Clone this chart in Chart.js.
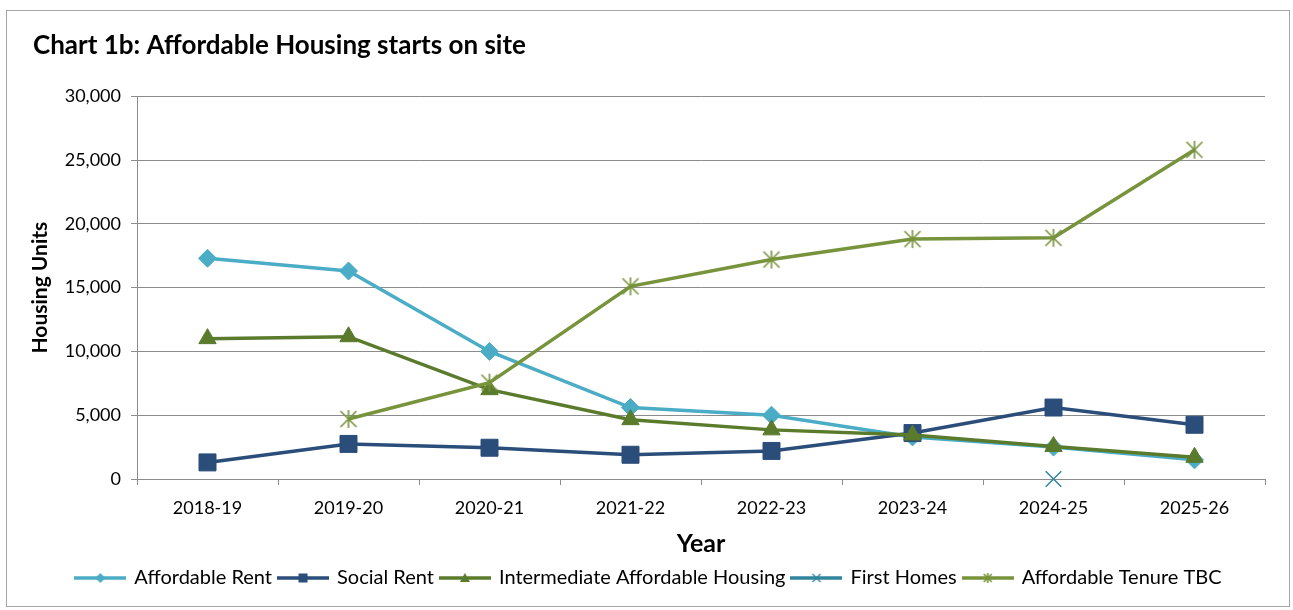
<!DOCTYPE html>
<html>
<head>
<meta charset="utf-8">
<script src="https://cdn.jsdelivr.net/npm/chart.js@4.4.1/dist/chart.umd.min.js"></script>
<style>
    html, body { margin: 0; padding: 0; background: #fff; }
    #frame {
        position: absolute; left: 6px; top: 10px;
        width: 1284px; height: 597px;
        border: 1px solid #a6a6a6; box-sizing: border-box;
    }
    #frame canvas { display: block; }
</style>
</head>
<body>
<div id="frame"><canvas id="startsChart"></canvas></div>
<script>
// values
const years = ['2018-19', '2019-20', '2020-21', '2021-22', '2022-23', '2023-24', '2024-25', '2025-26'];
const affordableRent = [17300, 16300, 10000, 5600, 5000, 3300, 2500, 1500];
const socialRent = [1300, 2750, 2450, 1900, 2200, 3600, 5600, 4250];
const intermediate = [11000, 11150, 7000, 4650, 3850, 3450, 2550, 1700];
const firstHomes = [null, null, null, null, null, null, 0, null];
const tenureTBC = [null, 4700, 7550, 15100, 17200, 18800, 18900, 25800];
const yMin = 0, yMax = 30000, yStep = 5000;

const FONT = 'Lato, "Liberation Sans", sans-serif';
const GRID = '#8c8c8c';

// marker shapes shared by the legend icons
function drawMarker(g, shape, x, y, s, color) {
    g.fillStyle = color;
    g.strokeStyle = color;
    g.beginPath();
    if (shape === 'diamond') {
        g.moveTo(x, y - s); g.lineTo(x + s, y); g.lineTo(x, y + s); g.lineTo(x - s, y);
        g.closePath(); g.fill();
    } else if (shape === 'square') {
        g.fillRect(x - s, y - s, 2 * s, 2 * s);
    } else if (shape === 'triangle') {
        g.moveTo(x, y - s); g.lineTo(x + s, y + s * 0.8); g.lineTo(x - s, y + s * 0.8);
        g.closePath(); g.fill();
    } else if (shape === 'x') {
        g.lineWidth = 1.3;
        g.moveTo(x - s, y - s); g.lineTo(x + s, y + s);
        g.moveTo(x + s, y - s); g.lineTo(x - s, y + s);
        g.stroke();
    } else if (shape === 'star') {
        g.lineWidth = 1.6;
        g.moveTo(x - s, y - s); g.lineTo(x + s, y + s);
        g.moveTo(x + s, y - s); g.lineTo(x - s, y + s);
        g.moveTo(x, y - s - 1); g.lineTo(x, y + s + 1);
        g.stroke();
    }
}

function starPoint(color) {
    const c = document.createElement('canvas');
    c.width = 20; c.height = 22;
    drawMarker(c.getContext('2d'), 'star', 10, 11, 8, color);
    return c;
}

function legendIcon(color, shape, size) {
    const c = document.createElement('canvas');
    c.width = 52; c.height = 16;
    const g = c.getContext('2d');
    g.strokeStyle = color;
    g.lineWidth = 3.5;
    g.beginPath(); g.moveTo(0, 8); g.lineTo(52, 8); g.stroke();
    drawMarker(g, shape, 26, 8, size, color);
    return c;
}

const series = [
    { label: 'Affordable Rent', data: affordableRent, color: '#4BACC6', point: 'rectRot', radius: 9, icon: 'diamond', iconSize: 5 },
    { label: 'Social Rent', data: socialRent, color: '#2A4D7A', point: 'rect', radius: 12, icon: 'square', iconSize: 4.5 },
    { label: 'Intermediate Affordable Housing', data: intermediate, color: '#5A7A2C', point: 'triangle', radius: 10, icon: 'triangle', iconSize: 5 },
    { label: 'First Homes', data: firstHomes, color: '#31859C', point: 'crossRot', radius: 11, icon: 'x', iconSize: 4 },
    { label: 'Affordable Tenure TBC', data: tenureTBC, color: '#77933C', point: null, radius: 10, icon: 'star', iconSize: 4 }
];

const datasets = series.map((s, i) => ({
    label: s.label,
    data: s.data,
    borderColor: s.color,
    backgroundColor: s.color,
    borderWidth: 3.5,
    pointStyle: s.point || starPoint(s.color),
    pointRadius: s.radius,
    pointBackgroundColor: s.color,
    pointBorderColor: s.color,
    pointBorderWidth: s.point === 'crossRot' ? 1.5 : 1,
    tension: 0,
    spanGaps: false,
    clip: false,
    order: series.length - i
}));

new Chart(document.getElementById('startsChart'), {
    type: 'line',
    data: { labels: years, datasets: datasets },
    options: {
        responsive: true,
        maintainAspectRatio: false,
        animation: false,
        layout: { padding: { left: 26, right: 24, top: 0, bottom: 8 } },
        plugins: {
            tooltip: { enabled: false },
            title: {
                display: true,
                text: 'Chart 1b: Affordable Housing starts on site',
                align: 'start',
                color: '#000',
                font: { family: FONT, size: 26, weight: 'bold', lineHeight: 1.2 },
                padding: { top: 19, bottom: 35 }
            },
            legend: {
                position: 'bottom',
                labels: {
                    usePointStyle: true,
                    pointStyleWidth: 48,
                    padding: 7,
                    color: '#000',
                    font: { family: FONT, size: 20 },
                    generateLabels: () => series.map((s, i) => ({
                        text: s.label,
                        pointStyle: legendIcon(s.color, s.icon, s.iconSize),
                        fillStyle: s.color,
                        strokeStyle: s.color,
                        lineWidth: 0,
                        hidden: false,
                        datasetIndex: i
                    }))
                }
            }
        },
        scales: {
            x: {
                offset: true,
                afterFit: (scale) => { scale.height = 82; },
                grid: { offset: true, drawOnChartArea: false, drawTicks: true, tickLength: 6, color: GRID },
                border: { display: true, color: GRID },
                ticks: { color: '#000', padding: 12, font: { family: FONT, size: 18 }, maxRotation: 0 },
                title: {
                    display: true, text: 'Year', color: '#000',
                    font: { family: FONT, size: 25, weight: 'bold', lineHeight: 1.2 },
                    padding: { top: 0, bottom: 2 }
                }
            },
            y: {
                min: yMin, max: yMax,
                afterFit: (scale) => { scale.width = 104; },
                grid: { color: GRID, tickLength: 6 },
                border: { display: true, color: GRID },
                ticks: { stepSize: yStep, color: '#000', padding: 10, font: { family: FONT, size: 18 } },
                title: {
                    display: true, text: 'Housing Units', color: '#000',
                    font: { family: FONT, size: 21, weight: 'bold', lineHeight: 1 },
                    padding: { top: -3, bottom: 0 }
                }
            }
        }
    }
});
</script>
</body>
</html>
